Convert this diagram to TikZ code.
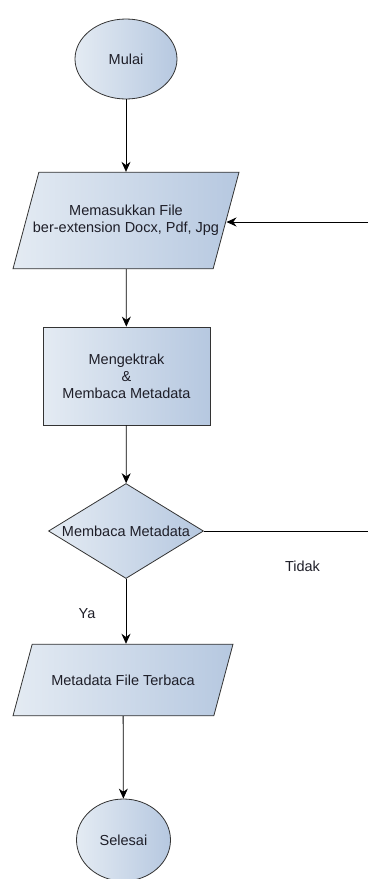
\documentclass[tikz,border=0pt]{standalone}
\usepackage{fontspec}
\setmainfont{Liberation Sans}
\usetikzlibrary{arrows.meta, shapes.geometric, calc}
\usepackage{xcolor}
\definecolor{boxleft}{HTML}{E4EBF3}
\definecolor{boxright}{HTML}{B6C8E0}
\definecolor{edgegray}{HTML}{333333}
\definecolor{inkgray}{HTML}{1E1E28}

\begin{document}
\begin{tikzpicture}[x=1pt, y=1pt, font=\fontsize{14.5}{17}\selectfont,
	shapebox/.style={draw=edgegray, line width=0.8pt, left color=boxleft,
		right color=boxright, text=inkgray, align=center, inner sep=0pt},
	terminal/.style={shapebox, ellipse},
	iobox/.style={shapebox, trapezium, trapezium left angle=75,
		trapezium right angle=105, trapezium stretches body},
	process/.style={shapebox, rectangle},
	decision/.style={shapebox, diamond, aspect=1.63},
	flow/.style={line width=0.8pt, -{Stealth[length=10pt, width=9pt]}},
	lbl/.style={text=inkgray}]
	\useasboundingbox (0,0) rectangle (368,-879);
	% nodes
	\node [terminal, minimum width=102, minimum height=80] (mulai) at (126,-59) {Mulai};
	\node [iobox, minimum width=226, inner ysep=33, inner xsep=-6] (input) at (126,-220.5)
		{Memasukkan File\\ber-extension Docx, Pdf, Jpg};
	\node [process, minimum width=167, minimum height=98] (ekstrak) at (126.5,-376)
		{Mengektrak\\\&\\Membaca Metadata};
	\node [decision, minimum width=155, minimum height=95] (baca) at (126,-531)
		{Membaca Metadata};
	\node [iobox, minimum width=220, inner ysep=30.5] (hasil) at (123,-680)
		{Metadata File Terbaca};
	\node [terminal, minimum width=94, minimum height=82] (selesai) at (123.5,-840) {Selesai};
	% loose ends of the loop
	\coordinate (back) at (368,-222);
	\coordinate (away) at (368,-531);
	% connectors
	\draw [flow] (mulai) -- (mulai |- input.north);
	\draw [flow] (input) -- (ekstrak);
	\draw [flow] (ekstrak) -- (baca);
	\draw [flow] (baca.south) -- (baca.south |- hasil.north);
	\draw [flow] (hasil) -- (selesai);
	\draw [line width=0.8pt] (baca.east) -- (away);
	\draw [flow] (back) -- (back -| input.east);
	% labels
	\node [lbl] (tidak) at (302.5,-566) {Tidak};
	\node [lbl] (ya) at (87,-614) {Ya};
\end{tikzpicture}
\end{document}
